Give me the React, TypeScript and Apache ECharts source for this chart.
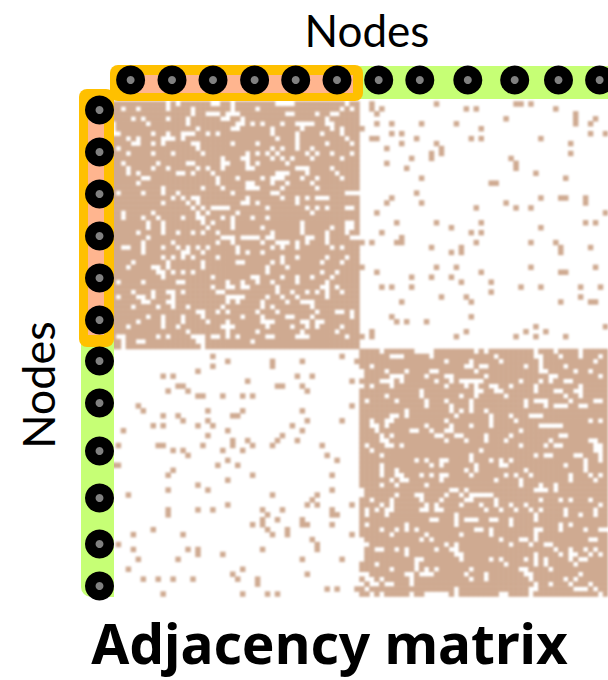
import React, { useEffect, useRef } from "react";
import * as echarts from "echarts";

const CELL_COUNT = 100;
const BLOCK = 50;
const cells = Array.from({ length: CELL_COUNT }, (_, i) => String(i));

// Holes (absent edges) per row in the dense top-left block
const topLeftHoles: number[][] = [
  [11,13,20,21,24,33,34,35,36,47],[2,5,11,16,24,29,46,48],[16,19,20,21,23,24,25,35,36,41,44,45],[4,6,11,15,22,23,26,43],
  [0,7,15,25,26,28,30,34,37,38,39,40,43,44],[0,17,24,25,32,38,44,46],[0,1,8,11,14,15,16,19,21,32,37,42,46],[3,5,10,11,12,14,33,37,47],
  [4,5,8,10,16,17,24,29,37,43,48],[1,17,32,34,37,40],[3,8,12,18,27,29,31,33,39,41,44,48],[22,26,27,32,34,36,40,46],
  [2,9,15,16,22,23,27,29,35],[3,8,11,17,19,22,27,28,37,38,39,44],[3,5,13,14,16,20,33,34,35,39,45],[6,7,21,25,30,32,33,34,38,41,46],
  [5,21,27,28,32,35,40],[10,18,22,27,28,29,34,41],[1,6,10,13,24,32,33,47,48,49],[12,14,16,17,27,34,37,39,41,42,43],
  [10,15,17,26,27,29,37],[16,18,20,21,22,23,31,39,41,43,47,48],[2,8,17,19,25,40],[2,6,9,14,17,18,22,24,28,31],[7,10,18,20,24,38,47,48],
  [7,10,19,24,30,38,44,47,48],[5,10,13,16,18,21,32,38,43,47],[7,22,23,24,26,27,28,29,31,32,39,40,43,48,49],[6,12,21,24,30,33,34,35,37,39,43],
  [2,3,6,10,13,15,17,19,25,32,34,37,44,46],[6,14,15,18,25,27,30],[10,12,14,16,21,34,37,43,47],[4,11,18,25,26,32,34,42,46],
  [3,8,9,11,18,31,35],[9,10,12,14,16,31,42,45],[10,20,28,29,34,37,40,44],[1,6,13,14,23,26,29,32,37,43],[20,23,24,26,27,33,42,43,45],
  [4,8,11,12,14,21,22,33,36,39,41,43,46],[1,5,6,8,12,23,24,25,26,31,34,37,43],[6,7,11,12,23,25,30,35,38,39,40],[4,9,12,15,22,30,32,40],
  [17,18,21,23,29,33,41,45,46,48],[7,10,14,18,26,30,35,36,40,48],[5,10,14,19,23,30,31,32,38,39,41,42],[3,10,13,22,23,24,31,36,39,41,46],
  [15,23,29,38,45],[1,2,9,11,16,17,18,20,21,23,25,31,32,37,38,39,47],[2,5,6,17,18,28],[2,18],
];

// Edges per row in the sparse top-right block
const topRightEdges: number[][] = [
  [2,15,31,32,34],[2,4,21,23,39],[3,43],[29,43,47],[3,6,12,19,43,46],[0,24],[6,8,46,49],[2,3,11,22,24,36],[8,15,42],[5,16],
  [14,16,42],[10,14,30],[5,31],[9,31],[35],[12,41],[26,27],[],[11],[6,36,40,41,45],[5,12,29,45],[23,31,34],[3,49],[],
  [7,15,24,45,47],[18,36],[4,22,24],[8],[0,2,7,8,23,34,39],[14,20,40,46],[18,20,40],[],[],[0,15,19,34,47],[3,24,40,41],
  [10,14,18],[20,26],[4,6,10,32,36,44,48],[26],[16,21,44],[8,22,40,46,47],[],[],[6,22],[7,9,13],[35,49],[2,21,33,37],[0,2,19,31,35,41],[],[],
];

// Edges per row in the sparse bottom-left block
const bottomLeftEdges: number[][] = [
  [],[20,46],[23,32,38,49],[20,32],[17],[10,12,37,40],[27,48],[13,14,33,34,38],[11,15,39],[17,18,22,26,28],[],[5,48],
  [6,19,26,38],[10,13,24,25],[14,19,39,46],[8,10,17,20,36],[2,23,38],[19,34],[24,27,33,37],[1,9,10,18,24,28,32,42],[12,14,22,26],
  [15,43],[23,45],[0,1,21,25],[12],[11,28,44],[23],[17],[11,19,44],[3,32,41],[40],[23,39,41,48],[11,17,20,30,34,44],[11,31,44,45],
  [30,33,38],[28,30,38,39,44],[8,31,35],[4,14,32,35,48],[40],[1,41],[4,15,17,30,41],[17,22],[5,13,38,46],[],[3,26],[24,39],
  [6,9,12,16,25,29],[29],[43,45,49],[10,26,31,33],
];

// Holes per row in the dense bottom-right block
const bottomRightHoles: number[][] = [
  [4,11,12,13,14,23,25,35,39,44],[6,7,8,14,27,35,36,40,44,48],[17,22,28,36,47],[2,21,22,24,25,33,36,41],[0,5,9,14,15,23,36,37,43,46],
  [0,6,7,8,13,17,18,25,38,39,48],[4,5,6,8,15,18,20,21,22,23,24,32,36,38,41,42],[0,2,6,17,21,23,26,27,30,35,44],[12,23,24,27,28,35,39,40,43,44],
  [5,12,20,23,29,41,44],[1,7,13,17,22,33,35,36,37,42,47,48],[13,18,22,33,37,39,40,41,44,45],[9,18,20,22,25],[6,7,9,19,26,30,34,35,36],
  [2,5,6,17,26,31,46,48],[2,3,5,13,18,22,26,36,37,38,39,40],[3,10,11,14,17,18,32],[4,6,15,16,19,20,25,30,40,41],[4,5,17,21,25,29,38,46,47],
  [1,5,6,8,32,37,39,40,47,48],[2,24,47,48],[4,22,35,37,38,43,44,48],[11,13,16,17,22,26,28,30,45,48],[4,14,16,23,28,29,41,45],[4,7,21,23,33,45],
  [4,7,8,12,14,16,17,22,29,31,34,42,46,48],[6,8,9,16,27,32,42,47],[4,7,13,32,36,39],[0,18,19,21,35,36,37,39],[0,7,11,12,17,20,22,23,24,25,26],
  [2,6,12,16,21,22,27,36,40,42,46],[4,6,13,15,20,24,27,30,33,48],[1,3,5,6,12,13,15,16,25,28,31,34,36,41,47],[1,5,19,35,41,44,47],
  [14,15,19,21,22,23,26,27,30,35],[1,9,19,30,40,42],[4,7,9,11,23,24,26,35,36,40,45,48,49],[6,13,20,26,35],[0,12,14,28,32,33,35,46,47],
  [0,1,17,19,30,34,37,38],[0,3,4,7,9,15,18,19,39,42,45,47],[0,9,19,20,35,40,42,43,46,48],[0,11,12,20,26,28,33,35,37,42,44,45],[3,11,29,35,37,43],
  [6,11,13,15,22,32,33,38],[0,1,9,10,12,13,14,21,25,33,34,44],[1,2,4,10,22,25,34,41,43],[0,2,3,5,6,10,35,38,42,46],[1,19,34,35,43,44,45,47],
  [2,4,10,13,14,15,16,17,19,28,29,34,48],
];

const topNodesX = [130.6, 172, 213, 254.6, 295.7, 337, 378.7, 419.8, 467.8, 514.7, 558.5, 599.6];
const leftNodesY = [110, 152, 194, 236, 278, 320, 361, 403, 451, 498, 544, 586];

function buildCells(): [number, number, number][] {
  const out: [number, number, number][] = [];
  for (let r = 0; r < BLOCK; r++) {
    for (let c = 0; c < BLOCK; c++) {
      if (!topLeftHoles[r].includes(c)) out.push([c, r, 1]);
      if (!bottomRightHoles[r].includes(c)) out.push([c + BLOCK, r + BLOCK, 1]);
    }
    topRightEdges[r].forEach((c) => out.push([c + BLOCK, r, 1]));
    (bottomLeftEdges[r] || []).forEach((c) => out.push([c, r + BLOCK, 1]));
  }
  return out;
}

const ORANGE = "#FFC000";
const GREEN = "#C6FF75";
const SALMON = "#FFB58F";

export default function App() {
  const matrixRef = useRef<HTMLDivElement>(null);
  const overlayRef = useRef<HTMLDivElement>(null);

  useEffect(() => {
    const matrix = echarts.init(matrixRef.current!, undefined, { renderer: "svg" });
    matrix.setOption({
      animation: false,
      backgroundColor: "#ffffff",
      grid: { left: 111, top: 101.5, width: 497, height: 495 },
      xAxis: { type: "category", data: cells, show: false },
      yAxis: { type: "category", data: cells, inverse: true, show: false },
      series: [
        {
          type: "heatmap",
          data: buildCells(),
          itemStyle: { color: "#CFAA91" },
          emphasis: { disabled: true },
        },
      ],
    });

    const overlay = echarts.init(overlayRef.current!, undefined, { renderer: "svg" });
    const topNodes = topNodesX.map((x) => [x, 80]);
    const leftNodes = leftNodesY.map((y) => [99.5, y]);
    const nodes = [...topNodes, ...leftNodes];
    overlay.setOption({
      animation: false,
      backgroundColor: "transparent",
      grid: { left: 0, top: 0, right: 0, bottom: 0 },
      xAxis: { type: "value", min: 0, max: 608, show: false },
      yAxis: { type: "value", min: 0, max: 680, inverse: true, show: false },
      graphic: [
        { type: "rect", shape: { x: 345, y: 66, width: 270, height: 33 }, style: { fill: GREEN } },
        { type: "rect", shape: { x: 81, y: 330, width: 33, height: 267, r: [0, 0, 0, 10] }, style: { fill: GREEN } },
        { type: "rect", shape: { x: 79, y: 89, width: 35, height: 258, r: 8 }, style: { fill: ORANGE } },
        { type: "rect", shape: { x: 110, y: 65, width: 253, height: 36, r: 8 }, style: { fill: ORANGE } },
        { type: "rect", shape: { x: 125, y: 75, width: 228, height: 18 }, style: { fill: SALMON } },
        { type: "rect", shape: { x: 88, y: 110, width: 16, height: 225 }, style: { fill: SALMON } },
        {
          type: "text",
          x: 367,
          y: 30,
          style: { text: "Nodes", fontFamily: "Lato", fontSize: 44, fill: "#000", textAlign: "center", textVerticalAlign: "middle" },
        },
        {
          type: "text",
          x: 38,
          y: 385,
          rotation: Math.PI / 2,
          style: { text: "Nodes", fontFamily: "Lato", fontSize: 45, fill: "#000", textAlign: "center", textVerticalAlign: "middle" },
        },
        {
          type: "text",
          x: 329.5,
          y: 642,
          style: { text: "Adjacency matrix", fontFamily: "Noto Sans", fontWeight: "bold", fontSize: 55, fill: "#000", textAlign: "center", textVerticalAlign: "middle" },
        },
      ],
      series: [
        { type: "scatter", data: nodes, symbolSize: 29, itemStyle: { color: "#000", opacity: 1 }, silent: true, z: 5 },
        { type: "scatter", data: nodes, symbolSize: 8, itemStyle: { color: "#808080", opacity: 1 }, silent: true, z: 6 },
      ],
    });

    return () => {
      matrix.dispose();
      overlay.dispose();
    };
  }, []);

  const layer: React.CSSProperties = { position: "absolute", left: 0, top: 0, width: 608, height: 680 };
  return (
    <div style={{ position: "fixed", left: 0, top: 0, width: 608, height: 680, overflow: "hidden", background: "#fff" }}>
      <div ref={matrixRef} style={{ ...layer, filter: "blur(1px)" }} />
      <div ref={overlayRef} style={layer} />
    </div>
  );
}
